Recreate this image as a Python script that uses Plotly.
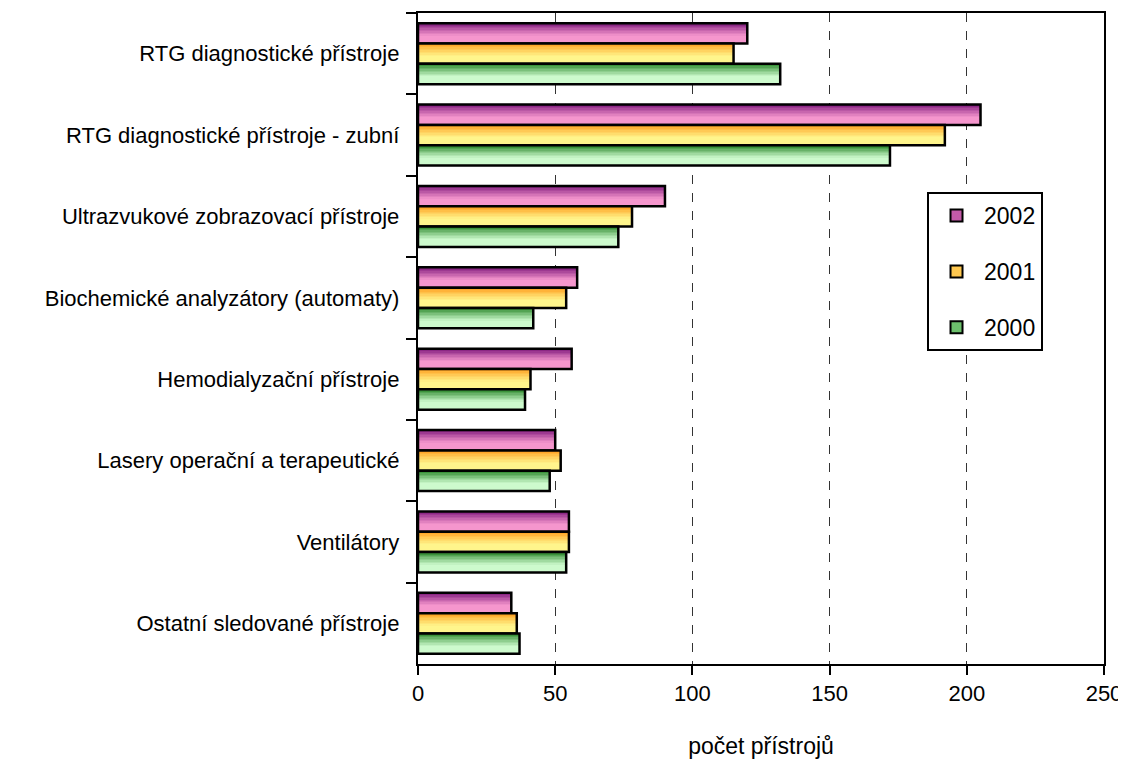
import plotly.graph_objects as go

categories = [
    "RTG diagnostické přístroje",
    "RTG diagnostické přístroje - zubní",
    "Ultrazvukové zobrazovací přístroje",
    "Biochemické analyzátory (automaty)",
    "Hemodialyzační přístroje",
    "Lasery operační a terapeutické",
    "Ventilátory",
    "Ostatní sledované přístroje",
]
series_names = ["2002", "2001", "2000"]
v2002 = [120, 205, 90, 58, 56, 50, 55, 34]
v2001 = [115, 192, 78, 54, 41, 52, 55, 36]
v2000 = [132, 172, 73, 42, 39, 48, 54, 37]
values = [v2002, v2001, v2000]

# gradient colours (top -> bottom)
grad = [
    ((118, 16, 118), (245, 150, 205)),
    ((255, 150, 20), (255, 245, 140)),
    ((28, 125, 28), (205, 250, 205)),
]
mid = ["#c45aa8", "#ffc850", "#6cc06c"]

N = 14
group_w = 0.75
bar_w = group_w / 3

fig = go.Figure()

def mix(c1, c2, t):
    return "rgb(%d,%d,%d)" % tuple(round(a + (b - a) * t) for a, b in zip(c1, c2))

for s, vals in enumerate(values):
    base = -group_w / 2 + s * bar_w
    for k in range(N):
        t = min(1.0, (k / (N - 1)) * 1.5) ** 0.8
        fig.add_trace(go.Bar(
            x=vals, y=categories, orientation="h",
            offset=base + k * bar_w / N, width=bar_w / N + 0.002,
            marker=dict(color=mix(grad[s][0], grad[s][1], t), line=dict(width=0)),
            showlegend=False, hoverinfo="skip",
        ))
    fig.add_trace(go.Bar(
        x=vals, y=categories, orientation="h",
        offset=base, width=bar_w,
        marker=dict(color="rgba(0,0,0,0)", line=dict(color="black", width=2.5)),
        showlegend=False, name=series_names[s],
    ))

for s in range(3):
    fig.add_trace(go.Bar(
        x=[None], y=[categories[0]], orientation="h", name=series_names[s],
        marker=dict(color=mid[s], line=dict(color="black", width=2)),
        legendgroup=series_names[s], showlegend=True,
    ))

# page body has an 8px margin: size/margins compensate so plot area lands at
# x 418..1104, y 13..664 in the screenshot
fig.update_layout(
    width=1118, height=753,
    barmode="overlay",
    paper_bgcolor="white", plot_bgcolor="white",
    margin=dict(l=410, r=22, t=5, b=97),
    font=dict(family="Liberation Sans, Arial, sans-serif", size=22, color="black"),
    showlegend=True,
    legend=dict(
        x=0.742, y=0.725, xanchor="left", yanchor="top",
        bordercolor="black", borderwidth=2, bgcolor="white",
        font=dict(size=23), tracegroupgap=23, traceorder="grouped",
        itemwidth=45, entrywidth=120,
    ),
    xaxis=dict(
        range=[0, 250], dtick=50, ticks="outside", ticklen=9, tickwidth=1.5,
        tickcolor="black", showline=True, linecolor="black", linewidth=2,
        mirror=True, showgrid=True, gridcolor="#333", griddash="dash", gridwidth=1,
        zeroline=False, ticklabeloverflow="allow", automargin=False,
        title=dict(text="počet přístrojů", font=dict(size=23), standoff=32),
        tickfont=dict(size=22),
    ),
    yaxis=dict(
        autorange="reversed", type="category", tickson="boundaries",
        ticks="outside", ticklen=10, tickwidth=1.5, tickcolor="black",
        showline=True, linecolor="black", linewidth=2, mirror=True,
        showgrid=False, tickfont=dict(size=22), ticksuffix="  ",
    ),
)

fig.write_html("out.html")
